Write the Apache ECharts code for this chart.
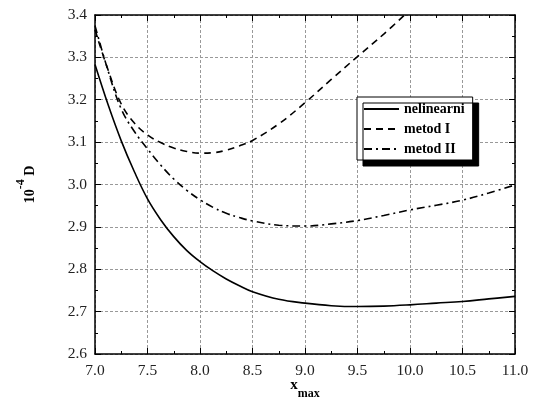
<!DOCTYPE html>
<html>
<head>
<meta charset="utf-8">
<script src="https://cdn.jsdelivr.net/npm/echarts@6/dist/echarts.min.js"></script>
<style>
  html, body { margin: 0; padding: 0; background: #fff; }
  #chart { width: 539px; height: 398px; }
</style>
</head>
<body>
<div id="chart"></div>
<script>
// x_max values and the three D curves (units of 1e-4)
const xMax = [7.0, 7.125, 7.25, 7.375, 7.5, 7.625, 7.75, 7.875, 8.0, 8.125, 8.25, 8.375, 8.5,
  8.75, 9.0, 9.25, 9.5, 9.75, 10.0, 10.25, 10.5, 10.75, 11.0];
const nelinearni = [3.283, 3.188, 3.103, 3.030, 2.966, 2.917, 2.877, 2.844, 2.818, 2.796, 2.777, 2.761, 2.747,
  2.729, 2.720, 2.714, 2.712, 2.713, 2.716, 2.720, 2.724, 2.730, 2.736];
const metodI = [3.365, 3.27, 3.19, 3.145, 3.117, 3.099, 3.086, 3.078, 3.074, 3.075, 3.081, 3.091, 3.104,
  3.143, 3.193, 3.248, 3.302, 3.355, 3.412, null, null, null, null];
const metodII = [3.375, 3.268, 3.178, 3.125, 3.084, 3.046, 3.013, 2.986, 2.964, 2.946, 2.932, 2.922, 2.914,
  2.904, 2.902, 2.907, 2.915, 2.927, 2.94, 2.951, 2.963, 2.98, 2.999];
const seriesNames = ['nelinearni', 'metod I', 'metod II'];

const serif = 'Liberation Serif';

function pairs(ys) {
  const out = [];
  xMax.forEach((x, i) => { if (ys[i] != null) out.push([x, ys[i]]); });
  return out;
}

const chart = echarts.init(document.getElementById('chart'), null, { renderer: 'canvas' });

const tickStyle = { show: true, inside: true, length: 6, lineStyle: { color: '#000', width: 1 } };
const minorStyle = { show: true, splitNumber: 2, length: 3, lineStyle: { color: '#000', width: 1 } };
const gridLine = { show: true, lineStyle: { color: '#999', width: 1, type: [3, 2] } };

const option = {
  animation: false,
  backgroundColor: '#fff',
  grid: { left: 95, top: 15, right: 24, bottom: 44, containLabel: false, outerBoundsMode: 'none' },
  legend: {
    orient: 'vertical',
    left: 357,
    top: 97,
    padding: [5, 8, 4, 6],
    itemGap: 6,
    itemWidth: 35,
    itemHeight: 14,
    backgroundColor: '#fff',
    borderColor: '#000',
    borderWidth: 1,
    borderRadius: 0,
    shadowColor: '#000',
    shadowBlur: 0,
    shadowOffsetX: 6,
    shadowOffsetY: 6,
    itemStyle: { opacity: 0 },
    textStyle: { fontFamily: serif, fontWeight: 'bold', fontSize: 14, color: '#000' },
    data: seriesNames
  },
  xAxis: [
    {
      type: 'value', min: 7, max: 11, interval: 0.5,
      axisLine: { show: true, onZero: false, lineStyle: { color: '#000', width: 1.5 } },
      axisTick: tickStyle, minorTick: minorStyle, splitLine: gridLine,
      axisLabel: { fontFamily: serif, fontSize: 15.5, color: '#222', margin: 9, formatter: v => v.toFixed(1) },
      name: '{a|x}{b|max}',
      nameLocation: 'middle',
      nameGap: 24,
      nameMoveOverlap: false,
      nameTextStyle: {
        rich: {
          a: { fontFamily: serif, fontWeight: 'bold', fontSize: 15, color: '#000', lineHeight: 22, verticalAlign: 'top' },
          b: { fontFamily: serif, fontWeight: 'bold', fontSize: 12, color: '#000', lineHeight: 22, verticalAlign: 'bottom' }
        }
      }
    },
    {
      type: 'value', min: 7, max: 11, interval: 0.5, position: 'top',
      axisLine: { show: true, onZero: false, lineStyle: { color: '#000', width: 1.5 } },
      axisTick: tickStyle, minorTick: minorStyle, splitLine: { show: false }, axisLabel: { show: false }
    }
  ],
  yAxis: [
    {
      type: 'value', min: 2.6, max: 3.4, interval: 0.1,
      axisLine: { show: true, onZero: false, lineStyle: { color: '#000', width: 1.5 } },
      axisTick: tickStyle, minorTick: minorStyle, splitLine: gridLine,
      axisLabel: { fontFamily: serif, fontSize: 15.5, color: '#222', margin: 8, formatter: v => v.toFixed(1) },
      name: '{a|10}{b|-4}{a| D}',
      nameLocation: 'middle',
      nameRotate: 90,
      nameGap: 58,
      nameMoveOverlap: false,
      nameTextStyle: {
        rich: {
          a: { fontFamily: serif, fontWeight: 'bold', fontSize: 14, color: '#000', lineHeight: 22, verticalAlign: 'bottom' },
          b: { fontFamily: serif, fontWeight: 'bold', fontSize: 12, color: '#000', lineHeight: 22, verticalAlign: 'top' }
        }
      }
    },
    {
      type: 'value', min: 2.6, max: 3.4, interval: 0.1, position: 'right',
      axisLine: { show: true, onZero: false, lineStyle: { color: '#000', width: 1.5 } },
      axisTick: tickStyle, minorTick: minorStyle, splitLine: { show: false }, axisLabel: { show: false }
    }
  ],
  series: [
    {
      name: seriesNames[0], type: 'line', data: pairs(nelinearni), symbol: 'none', smooth: 0.4, clip: true,
      lineStyle: { color: '#000', width: 1.6, type: 'solid' }, itemStyle: { color: '#000' }
    },
    {
      name: seriesNames[1], type: 'line', data: pairs(metodI), symbol: 'none', smooth: 0.4, clip: true,
      lineStyle: { color: '#000', width: 1.6, type: [7, 5] }, itemStyle: { color: '#000' }
    },
    {
      name: seriesNames[2], type: 'line', data: pairs(metodII), symbol: 'none', smooth: 0.4, clip: true,
      lineStyle: { color: '#000', width: 1.6, type: [8, 4, 2, 4] }, itemStyle: { color: '#000' }
    }
  ]
};

chart.setOption(option);
</script>
</body>
</html>
